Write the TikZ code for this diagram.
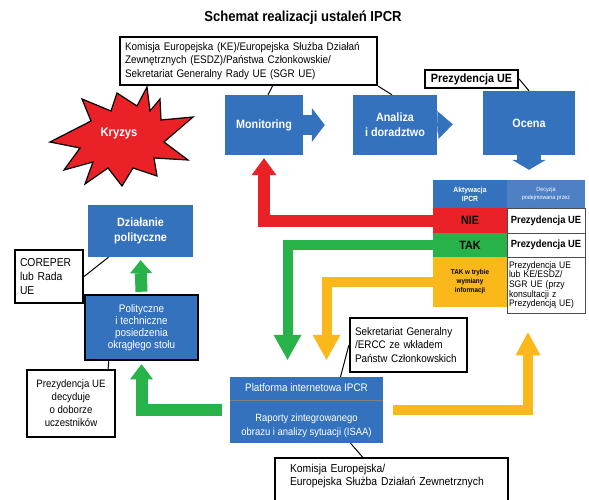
\documentclass[tikz,border=0pt]{standalone}
\usepackage{fontspec}
\setmainfont{Liberation Sans}[FakeStretch=0.9]
\usetikzlibrary{arrows.meta}
\definecolor{ipcrblue}{RGB}{52,114,190}
\definecolor{headblue}{RGB}{78,128,198}
\definecolor{ipcrred}{RGB}{234,34,40}
\definecolor{ipcrgreen}{RGB}{40,178,74}
\definecolor{ipcrorange}{RGB}{250,184,26}

\begin{document}
\begin{tikzpicture}[x=1pt, y=-1pt, every node/.style={inner sep=0pt}]
		\tikzstyle{block}=[fill=ipcrblue, text=white, align=center, font=\bfseries\fontsize{12}{15}\selectfont]
		\tikzstyle{callout}=[draw, line width=2.2pt, fill=white, align=left, inner xsep=5pt, font=\fontsize{11}{13.5}\selectfont]
		\tikzstyle{cell}=[align=center]
		\tikzstyle{answer}=[draw=black!70, fill=white, line width=0.6pt]
		\tikzstyle{pointer}=[line width=1pt]
		\tikzstyle{flow}=[line join=miter]

		\useasboundingbox (0,0) rectangle (589,500);
		\clip (0,0) rectangle (589,500);

		\node[font=\bfseries\fontsize{14.5}{17}\selectfont](title) at (303,18){Schemat realizacji ustaleń IPCR};

    % Top row
		\node[callout, text width=247pt, minimum height=48pt](ke) at (248.5,61){Komisja Europejska (KE)/Europejska Służba Działań\\Zewnętrznych (ESDZ)/Państwa Członkowskie/\\Sekretariat Generalny Rady UE (SGR UE)};
		\node[callout, align=center, minimum width=93pt, minimum height=18pt, font=\bfseries\fontsize{12}{14}\selectfont](prezt) at (471.5,79){Prezydencja UE};

		\node[block, minimum width=78pt, minimum height=60pt](mon) at (264,125){Monitoring};
		\node[block, minimum width=84pt, minimum height=60pt](ana) at (395,125){Analiza\\i doradztwo};
		\node[block, minimum width=92pt, minimum height=64pt](oc) at (529,123){Ocena};

    % Crisis
		\draw[fill=ipcrred, line width=1.2pt, line join=miter] (147,87) -- (137,106) -- (117,93) -- (111,111) -- (82,99) -- (91,121) -- (50,142) -- (80,148) -- (64,170) -- (93,162) -- (85,184) -- (108,168) -- (122,186) -- (133,168) -- (157,176) -- (154,158) -- (188,160) -- (164,142) -- (193,117) -- (161,120) -- (160,99) -- (150,111) -- cycle;
		\node[text=white, font=\bfseries\fontsize{12.5}{14}\selectfont](kryzys) at (119,133){Kryzys};

    % Activation table
		\node[cell, fill=ipcrblue, minimum width=74pt, minimum height=28pt, text=white, font=\bfseries\fontsize{7.5}{9}\selectfont](aktyw) at (470,194){Aktywacja\\IPCR};
		\node[cell, fill=headblue, minimum width=78pt, minimum height=28pt, text=white, font=\fontsize{6}{7.5}\selectfont](decyz) at (546,194){Decyzja\\podejmowana przez};
		\node[cell, fill=ipcrred, minimum width=74pt, minimum height=25pt, font=\bfseries\fontsize{12}{14}\selectfont](nie) at (470,220.5){NIE};
		\node[cell, fill=ipcrgreen, minimum width=74pt, minimum height=24pt, font=\bfseries\fontsize{12}{14}\selectfont](tak) at (470,245){TAK};
		\node[cell, fill=ipcrorange, minimum width=74pt, minimum height=50pt, font=\bfseries\fontsize{7}{9}\selectfont](takinfo) at (470,282){TAK w trybie\\wymiany\\informacji};
		\node[cell, answer, minimum width=78pt, minimum height=25pt, font=\bfseries\fontsize{10.4}{12}\selectfont](prez1) at (546,220.5){Prezydencja UE};
		\node[cell, answer, minimum width=78pt, minimum height=24pt, font=\bfseries\fontsize{10.4}{12}\selectfont](prez2) at (546,245){Prezydencja UE};
		\node[answer, align=left, text width=74pt, inner xsep=2pt, minimum height=56pt, font=\fontsize{9.5}{9.6}\selectfont](prez3) at (546,285){Prezydencja UE\\lub KE/ESDZ/\\SGR UE (przy\\konsultacji z\\Prezydencją UE)};

    % Platform
		\node[fill=ipcrblue, minimum width=153pt, minimum height=66pt](plat) at (306.5,410){};
		\draw[black!50, line width=0.8pt] (plat.west |- 0,400) -- (plat.east |- 0,400);
		\node[text=white, font=\fontsize{11}{13}\selectfont](plattop) at (306.5,388){Platforma internetowa IPCR};
		\node[text=white, align=center, font=\fontsize{10.5}{14.5}\selectfont](platbot) at (306.5,426){Raporty zintegrowanego\\obrazu i analizy sytuacji (ISAA)};
		\node[callout, text width=107pt, minimum height=54pt](sek) at (408.5,345){Sekretariat Generalny\\/ERCC ze wkładem\\Państw Członkowskich};
		\node[callout, text width=203pt, inner xsep=15pt, inner ysep=6pt, text depth=32pt, anchor=north, font=\fontsize{11.5}{13.5}\selectfont](kom) at (391.5,457){Komisja Europejska/\\Europejska Służba Działań Zewnetrznych};

    % Political level
		\node[block, minimum width=105pt, minimum height=52pt](dz) at (140.5,231){Działanie\\polityczne};
		\node[block, draw=black, line width=2.5pt, minimum width=113pt, minimum height=65pt, font=\fontsize{11}{12}\selectfont](pol) at (141.5,327.5){Polityczne\\i techniczne\\posiedzenia\\okrągłego stołu};
		\node[callout, text width=58pt, minimum height=53pt, font=\fontsize{11.5}{14}\selectfont](cor) at (49,276.5){COREPER\\lub Rada\\UE};
		\node[callout, align=center, minimum width=88pt, minimum height=67pt, font=\fontsize{10.7}{13}\selectfont](dec) at (71,403.5){Prezydencja UE\\decyduje\\o doborze\\uczestników};

    % Blue flow
		\draw[flow, draw=ipcrblue, line width=20pt, -{Triangle[width=34pt,length=13pt,line width=0pt]}, shorten >=28pt] (mon.east) -- (ana.west);
		\draw[flow, draw=ipcrblue, line width=16pt, -{Triangle[width=28pt,length=15pt,line width=0pt]}, shorten >=30pt] (ana.east) -- (oc.west);
		\draw[flow, draw=ipcrblue, line width=24pt, -{Triangle[width=34pt,length=10pt,line width=0pt]}, shorten >=10pt] (oc.south) -- (oc.south |- aktyw.north);

    % Decisions
		\draw[flow, draw=ipcrred, line width=12pt, -{Triangle[width=25pt,length=17pt,line width=0pt]}, shorten >=3pt] (nie.west) -| (mon.south);
		\draw[flow, draw=ipcrgreen, line width=10pt, -{Triangle[width=28pt,length=25pt,line width=0pt]}, shorten >=17pt] (tak.west) -| ([xshift=-19pt]plat.north);
		\draw[flow, draw=ipcrorange, line width=10pt, -{Triangle[width=28pt,length=25pt,line width=0pt]}, shorten >=17pt] (takinfo.west) -| ([xshift=20pt]plat.north);
		\draw[flow, draw=ipcrorange, line width=10pt, -{Triangle[width=25pt,length=23pt,line width=0pt]}, shorten <=10pt, shorten >=19pt] (plat.east) -| ([xshift=-18pt]prez3.south);
		\draw[flow, draw=ipcrgreen, line width=12pt, -{Triangle[width=23pt,length=15pt,line width=0pt]}, shorten <=8pt, shorten >=3pt] (plat.west) -| (pol.south);
		\draw[flow, draw=ipcrgreen, line width=12pt, -{Triangle[width=22pt,length=13pt,line width=0pt]}, shorten <=2pt, shorten >=3pt] (pol.north) -- (dz.south);

    % Pointers
		\draw[pointer] (ke.south east) -- ([xshift=-3pt]ana.north);
		\draw[pointer] ([xshift=24pt]ke.south) -- ([xshift=4pt]mon.north);
		\draw[pointer] (prezt.east) -- (oc.north);
		\draw[pointer] (sek.west) -- ([xshift=34pt]plat.north);
		\draw[pointer] ([xshift=44pt]plat.south) -- ([xshift=-29pt]kom.north);
		\draw[pointer] (cor.east) -- ([xshift=-32pt]dz.south);
		\draw[pointer] ([xshift=-8pt]dec.north east) -- ([xshift=25pt]pol.south west);
  \end{tikzpicture}
\end{document}
